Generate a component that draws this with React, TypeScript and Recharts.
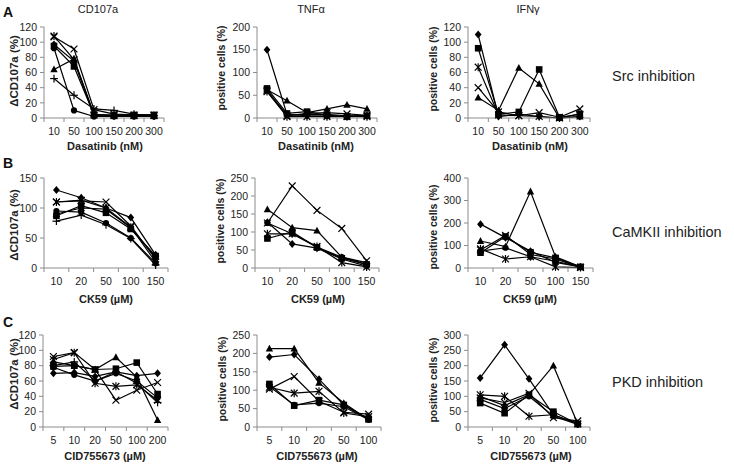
import React from 'react';
import { LineChart, Line, XAxis, YAxis } from 'recharts';

// ---------- categories ----------
const SRC_DOSES = ['10', '50', '100', '150', '200', '300'];
const CAMK_DOSES = ['10', '20', '50', '100', '150'];
const PKD_DOSES_CD = ['5', '10', '20', '50', '100', '200'];
const PKD_DOSES = ['5', '10', '20', '50', '100'];

// ---------- Src inhibition (Dasatinib) ----------
const srcCd107a = [
  [97, 75, 3, 3, 3, 3],
  [95, 68, 4, 4, 4, 4],
  [64, 78, 5, 3, 3, 3],
  [107, 91, 11, 5, 4, 4],
  [108, 77, 4, 3, 3, 3],
  [92, 10, 2, 2, 2, 2],
  [52, 30, 12, 10, 5, 3],
];
const srcTnf = [
  [150, 8, 5, 5, 4, 5],
  [65, 10, 14, 6, 3, 5],
  [62, 38, 12, 20, 29, 20],
  [60, 5, 10, 12, 9, 6],
  [58, 3, 3, 3, 3, 3],
  [60, 6, 8, 8, 5, 5],
];
const srcIfn = [
  [110, 2, 5, 2, 0, 2],
  [92, 5, 8, 64, 1, 5],
  [27, 10, 66, 45, 0, 2],
  [40, 8, 3, 7, 1, 12],
  [67, 4, 3, 2, 0, 5],
];

// ---------- CaMKII inhibition (CK59) ----------
const camkCd107a = [
  [130, 117, 100, 84, 22],
  [87, 104, 92, 65, 20],
  [90, 100, 98, 67, 18],
  [110, 112, 110, 70, 15],
  [110, 113, 100, 68, 10],
  [95, 93, 75, 50, 8],
  [78, 88, 72, 49, 5],
];
const camkTnf = [
  [127, 67, 55, 25, 5],
  [82, 100, 57, 27, 10],
  [163, 112, 104, 30, 15],
  [125, 228, 160, 110, 20],
  [95, 95, 60, 15, 3],
  [125, 95, 58, 30, 10],
];
const camkIfn = [
  [195, 135, 75, 25, 5],
  [68, 140, 70, 45, 5],
  [120, 95, 340, 50, 5],
  [80, 145, 60, 40, 3],
  [85, 40, 50, 5, 2],
  [75, 90, 50, 30, 5],
];

// ---------- PKD inhibition (CID755673) ----------
const pkdCd107a = [
  [70, 71, 66, 72, 67, 70],
  [79, 80, 75, 76, 84, 43],
  [85, 80, 75, 91, 65, 9],
  [92, 97, 75, 35, 48, 58],
  [88, 97, 57, 53, 55, 35],
  [78, 68, 60, 70, 60, 38],
  [80, 85, 60, 72, 57, 32],
];
const pkdTnf = [
  [190, 197, 130, 60, 22],
  [117, 58, 73, 60, 22],
  [213, 213, 120, 65, 20],
  [103, 137, 70, 40, 35],
  [108, 92, 97, 38, 28],
  [110, 60, 65, 55, 20],
];
const pkdIfn = [
  [160, 268, 157, 40, 10],
  [78, 45, 105, 50, 10],
  [100, 70, 105, 200, 10],
  [95, 80, 110, 30, 20],
  [105, 100, 35, 40, 10],
  [90, 60, 100, 35, 8],
];

const MARKERS = ['diamond', 'square', 'triangle', 'cross', 'star', 'circle', 'plus'];

const AX = '#8c8c8c';
const FONT = '"Liberation Sans", Arial, sans-serif';

function makeDot(shape: string) {
  return (props: any) => {
    const { cx, cy, index } = props;
    const k = `${shape}-${index}`;
    if (cx == null || cy == null) return <g key={k} />;
    const s = 3.4;
    switch (shape) {
      case 'diamond':
        return <polygon key={k} points={`${cx},${cy - s - 0.6} ${cx + s},${cy} ${cx},${cy + s + 0.6} ${cx - s},${cy}`} fill="#000" />;
      case 'square':
        return <rect key={k} x={cx - 3.3} y={cy - 3.3} width={6.6} height={6.6} fill="#000" />;
      case 'triangle':
        return <polygon key={k} points={`${cx},${cy - 3.9} ${cx + 3.7},${cy + 2.9} ${cx - 3.7},${cy + 2.9}`} fill="#000" />;
      case 'circle':
        return <circle key={k} cx={cx} cy={cy} r={3.1} fill="#000" />;
      case 'cross':
        return (
          <g key={k} stroke="#000" strokeWidth={1.2}>
            <line x1={cx - s} y1={cy - s} x2={cx + s} y2={cy + s} />
            <line x1={cx - s} y1={cy + s} x2={cx + s} y2={cy - s} />
          </g>
        );
      case 'star':
        return (
          <g key={k} stroke="#000" strokeWidth={1.2}>
            <line x1={cx - s} y1={cy - s} x2={cx + s} y2={cy + s} />
            <line x1={cx - s} y1={cy + s} x2={cx + s} y2={cy - s} />
            <line x1={cx} y1={cy - s - 0.6} x2={cx} y2={cy + s + 0.6} />
          </g>
        );
      case 'plus':
      default:
        return (
          <g key={k} stroke="#000" strokeWidth={1.2}>
            <line x1={cx - s - 0.5} y1={cy} x2={cx + s + 0.5} y2={cy} />
            <line x1={cx} y1={cy - s - 0.5} x2={cx} y2={cy + s + 0.5} />
          </g>
        );
    }
  };
}

type PanelProps = {
  cats: string[];
  series: number[][];
  L: number; R: number; T: number; B: number;
  yMax: number; yTicks: number[];
};

function Panel({ cats, series, L, R, T, B, yMax, yTicks }: PanelProps) {
  const YW = 44, MT = 8, MR = 16, XH = 26;
  const plotW = R - L;
  const plotH = B - T;
  const step = plotW / cats.length;
  const width = YW + plotW + MR;
  const height = MT + plotH + XH;
  const axisY = MT + plotH;
  const data = cats.map((c, i) => {
    const row: any = { dose: c };
    series.forEach((s, j) => { row['s' + j] = s[i]; });
    return row;
  });
  const Tick = (p: any) => {
    const { x, index, payload } = p;
    const last = index === cats.length - 1;
    return (
      <g>
        <line x1={x - step / 2} y1={axisY} x2={x - step / 2} y2={axisY + 4} stroke={AX} />
        {last && <line x1={x + step / 2} y1={axisY} x2={x + step / 2} y2={axisY + 4} stroke={AX} />}
        <text x={x} y={axisY + 17} textAnchor="middle" fontSize={10.5} fill="#222" fontFamily={FONT}>
          {payload.value}
        </text>
      </g>
    );
  };
  return (
    <div style={{ position: 'absolute', left: L - YW, top: T - MT }}>
      <LineChart width={width} height={height} data={data} margin={{ top: MT, right: MR, bottom: 0, left: 0 }}>
        <XAxis
          dataKey="dose"
          padding={{ left: step / 2, right: step / 2 }}
          height={XH}
          axisLine={{ stroke: AX }}
          tickLine={false}
          tick={Tick}
          interval={0}
        />
        <YAxis
          width={YW}
          domain={[0, yMax]}
          ticks={yTicks}
          interval={0}
          axisLine={{ stroke: AX }}
          tickLine={{ stroke: AX }}
          tickSize={4}
          tickMargin={3}
          tick={{ fontSize: 10.5, fill: '#222', fontFamily: FONT }}
        />
        {series.map((_, j) => (
          <Line
            key={j}
            type="linear"
            dataKey={'s' + j}
            stroke="#000"
            strokeWidth={1.2}
            dot={makeDot(MARKERS[j])}
            activeDot={false}
            isAnimationActive={false}
          />
        ))}
      </LineChart>
    </div>
  );
}

export default function App() {
  return (
    <div style={{ position: 'fixed', left: 0, top: 0, width: 734, height: 464, background: '#fff', fontFamily: FONT }}>
      {/* Row A */}
      <Panel cats={SRC_DOSES} series={srcCd107a} L={44} R={164} T={27} B={118} yMax={120} yTicks={[0, 20, 40, 60, 80, 100, 120]} />
      <Panel cats={SRC_DOSES} series={srcTnf} L={257} R={377} T={27} B={118} yMax={200} yTicks={[0, 50, 100, 150, 200]} />
      <Panel cats={SRC_DOSES} series={srcIfn} L={468} R={590} T={27} B={118} yMax={120} yTicks={[0, 20, 40, 60, 80, 100, 120]} />
      {/* Row B */}
      <Panel cats={CAMK_DOSES} series={camkCd107a} L={44} R={168} T={178} B={268} yMax={150} yTicks={[0, 50, 100, 150]} />
      <Panel cats={CAMK_DOSES} series={camkTnf} L={255} R={379} T={178} B={268} yMax={250} yTicks={[0, 50, 100, 150, 200, 250]} />
      <Panel cats={CAMK_DOSES} series={camkIfn} L={468} R={593} T={178} B={268} yMax={400} yTicks={[0, 100, 200, 300, 400]} />
      {/* Row C */}
      <Panel cats={PKD_DOSES_CD} series={pkdCd107a} L={43} R={168} T={335} B={427} yMax={120} yTicks={[0, 20, 40, 60, 80, 100, 120]} />
      <Panel cats={PKD_DOSES} series={pkdTnf} L={257} R={381} T={335} B={427} yMax={250} yTicks={[0, 50, 100, 150, 200, 250]} />
      <Panel cats={PKD_DOSES} series={pkdIfn} L={468} R={590} T={335} B={427} yMax={300} yTicks={[0, 50, 100, 150, 200, 250, 300]} />

      <svg width={734} height={464} style={{ position: 'absolute', left: 0, top: 0, pointerEvents: 'none' }} fontFamily={FONT}>
        {/* column titles */}
        <text x={98} y={13} textAnchor="middle" fontSize={11} fill="#222">CD107a</text>
        <text x={311} y={13} textAnchor="middle" fontSize={11} fill="#222">TNFα</text>
        <text x={528} y={13} textAnchor="middle" fontSize={11} fill="#222">IFNγ</text>
        {/* panel letters */}
        <text x={3} y={17} fontSize={14} fontWeight="bold" fill="#111">A</text>
        <text x={3} y={168} fontSize={14} fontWeight="bold" fill="#111">B</text>
        <text x={3} y={327} fontSize={14} fontWeight="bold" fill="#111">C</text>
        {/* x labels */}
        <text x={105} y={150} textAnchor="middle" fontSize={11} fontWeight="bold" fill="#222">Dasatinib (nM)</text>
        <text x={316} y={150} textAnchor="middle" fontSize={11} fontWeight="bold" fill="#222">Dasatinib (nM)</text>
        <text x={530} y={150} textAnchor="middle" fontSize={11} fontWeight="bold" fill="#222">Dasatinib (nM)</text>
        <text x={106} y={303} textAnchor="middle" fontSize={11} fontWeight="bold" fill="#222">CK59 (µM)</text>
        <text x={318} y={303} textAnchor="middle" fontSize={11} fontWeight="bold" fill="#222">CK59 (µM)</text>
        <text x={530} y={303} textAnchor="middle" fontSize={11} fontWeight="bold" fill="#222">CK59 (µM)</text>
        <text x={105} y={460} textAnchor="middle" fontSize={11} fontWeight="bold" fill="#222">CID755673 (µM)</text>
        <text x={317} y={460} textAnchor="middle" fontSize={11} fontWeight="bold" fill="#222">CID755673 (µM)</text>
        <text x={531} y={460} textAnchor="middle" fontSize={11} fontWeight="bold" fill="#222">CID755673 (µM)</text>
        {/* y labels */}
        <text transform="translate(18,71) rotate(-90)" textAnchor="middle" fontSize={11.5} fontWeight="bold" fill="#222">ΔCD107a (%)</text>
        <text transform="translate(18,225) rotate(-90)" textAnchor="middle" fontSize={11.5} fontWeight="bold" fill="#222">ΔCD107a (%)</text>
        <text transform="translate(18,374) rotate(-90)" textAnchor="middle" fontSize={11.5} fontWeight="bold" fill="#222">ΔCD107a (%)</text>
        <text transform="translate(225,68) rotate(-90)" textAnchor="middle" fontSize={10.5} fontWeight="bold" fill="#222">positive cells (%)</text>
        <text transform="translate(437,69) rotate(-90)" textAnchor="middle" fontSize={10.5} fontWeight="bold" fill="#222">positive cells (%)</text>
        <text transform="translate(224,221) rotate(-90)" textAnchor="middle" fontSize={10.5} fontWeight="bold" fill="#222">positive cells (%)</text>
        <text transform="translate(437,227) rotate(-90)" textAnchor="middle" fontSize={10.5} fontWeight="bold" fill="#222">positive cells (%)</text>
        <text transform="translate(226,379) rotate(-90)" textAnchor="middle" fontSize={10.5} fontWeight="bold" fill="#222">positive cells (%)</text>
        <text transform="translate(437,380) rotate(-90)" textAnchor="middle" fontSize={10.5} fontWeight="bold" fill="#222">positive cells (%)</text>
        {/* right-side labels */}
        <text x={612} y={81} fontSize={14.5} fill="#222">Src inhibition</text>
        <text x={612} y={237} fontSize={14.5} fill="#222">CaMKII inhibition</text>
        <text x={612} y={387} fontSize={14.5} fill="#222">PKD inhibition</text>
      </svg>
    </div>
  );
}
